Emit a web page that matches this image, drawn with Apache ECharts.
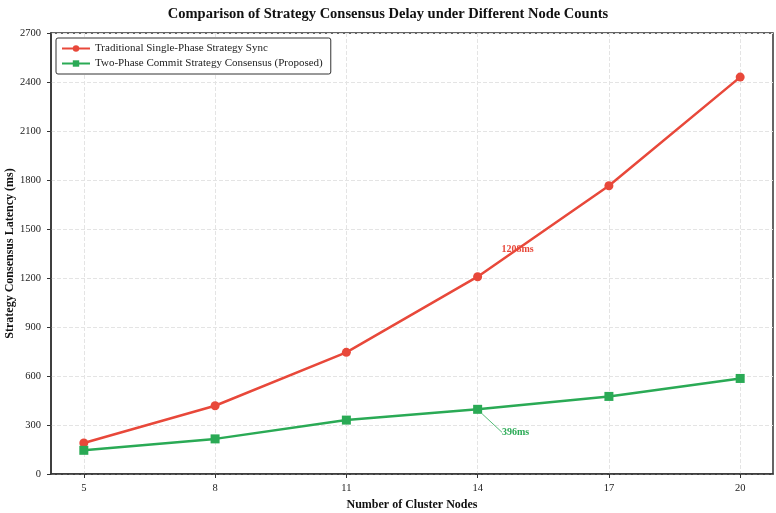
<!DOCTYPE html>
<html><head><meta charset="utf-8">
<script src="https://cdn.jsdelivr.net/npm/echarts@6/dist/echarts.min.js"></script>
<style>html,body{margin:0;padding:0;background:#fff}#c{width:776px;height:513px}</style>
</head><body><div id="c"></div>
<script>
var nodeCounts = [5, 8, 11, 14, 17, 20];
var traditionalLatency = [190, 418, 745, 1208, 1765, 2430];
var twoPhaseLatency = [145, 215, 330, 396, 475, 585];
var yTicks = [0, 300, 600, 900, 1200, 1500, 1800, 2100, 2400, 2700];
var seriesNames = ['Traditional Single-Phase Strategy Sync', 'Two-Phase Commit Strategy Consensus (Proposed)'];
var annotateIndex = 3;

var FONT = '"Liberation Serif", "DejaVu Serif", serif';
var RED = '#e8483a', GREEN = '#2aaa55';

function makeData(vals, color, text) {
  return vals.map(function (v, i) {
    var item = { value: [nodeCounts[i], v] };
    if (i === annotateIndex) {
      item.label = { show: true, formatter: text, color: color, fontFamily: FONT, fontWeight: 'bold', fontSize: 10, position: 'inside' };
    }
    return item;
  });
}

var chart = echarts.init(document.getElementById('c'));
chart.setOption({
  animation: false,
  backgroundColor: '#fff',
  title: {
    text: 'Comparison of Strategy Consensus Delay under Different Node Counts',
    left: 'center', top: 2,
    textStyle: { fontFamily: FONT, fontWeight: 'bold', fontSize: 14.5, color: '#111' }
  },
  legend: {
    orient: 'vertical', left: 56, top: 38,
    itemWidth: 28, itemHeight: 8, itemGap: 4,
    padding: [5, 8, 5, 5],
    borderColor: '#333', borderWidth: 1, borderRadius: 2,
    backgroundColor: '#fff',
    textStyle: { fontFamily: FONT, fontSize: 11, color: '#222' },
    data: seriesNames
  },
  grid: { left: 51, right: 3, top: 33, bottom: 39, outerBoundsMode: 'none', containLabel: false,
    show: true, borderColor: '#333', borderWidth: 1.5, backgroundColor: 'transparent' },
  xAxis: {
    type: 'value', min: 4.25, max: 20.75,
    name: 'Number of Cluster Nodes', nameLocation: 'middle', nameGap: 25, nameMoveOverlap: false,
    nameTextStyle: { fontFamily: FONT, fontWeight: 'bold', fontSize: 12, color: '#111', verticalAlign: 'top' },
    axisLine: { show: true, lineStyle: { color: '#333', width: 1.5 } },
    axisTick: { show: true, customValues: nodeCounts, length: 4, lineStyle: { color: '#333' } },
    axisLabel: { customValues: nodeCounts, fontFamily: FONT, fontSize: 10.5, color: '#222', margin: 9 },
    splitLine: { show: true, lineStyle: { type: 'dashed', color: '#e4e4e4' } }
  },
  yAxis: {
    type: 'value', min: 0, max: 2700, interval: 300,
    name: 'Strategy Consensus Latency (ms)', nameLocation: 'middle', nameGap: 35, nameMoveOverlap: false,
    nameTextStyle: { fontFamily: FONT, fontWeight: 'bold', fontSize: 12, color: '#111' },
    axisLine: { show: true, lineStyle: { color: '#333', width: 1.5 } },
    axisTick: { show: true, length: 4, lineStyle: { color: '#333' } },
    axisLabel: { fontFamily: FONT, fontSize: 10.5, color: '#222', margin: 10,
      formatter: function (v) { return yTicks.indexOf(v) >= 0 ? String(v) : ''; } },
    splitLine: { show: true, lineStyle: { type: 'dashed', color: '#e4e4e4' } }
  },
  series: [
    {
      name: seriesNames[0], type: 'line',
      data: makeData(traditionalLatency, RED, traditionalLatency[annotateIndex] + 'ms'),
      symbol: 'circle', symbolSize: 9,
      lineStyle: { color: RED, width: 2.5 },
      itemStyle: { color: RED },
      labelLayout: function (p) { return { dx: 40, dy: -27 }; }
    },
    {
      name: seriesNames[1], type: 'line',
      data: makeData(twoPhaseLatency, GREEN, twoPhaseLatency[annotateIndex] + 'ms'),
      symbol: 'rect', symbolSize: 9,
      lineStyle: { color: GREEN, width: 2.5 },
      itemStyle: { color: GREEN },
      labelLine: { show: true, lineStyle: { color: GREEN, width: 0.8 } },
      labelLayout: function (p) { return { dx: 38, dy: 23 }; }
    }
  ]
});
</script></body></html>
